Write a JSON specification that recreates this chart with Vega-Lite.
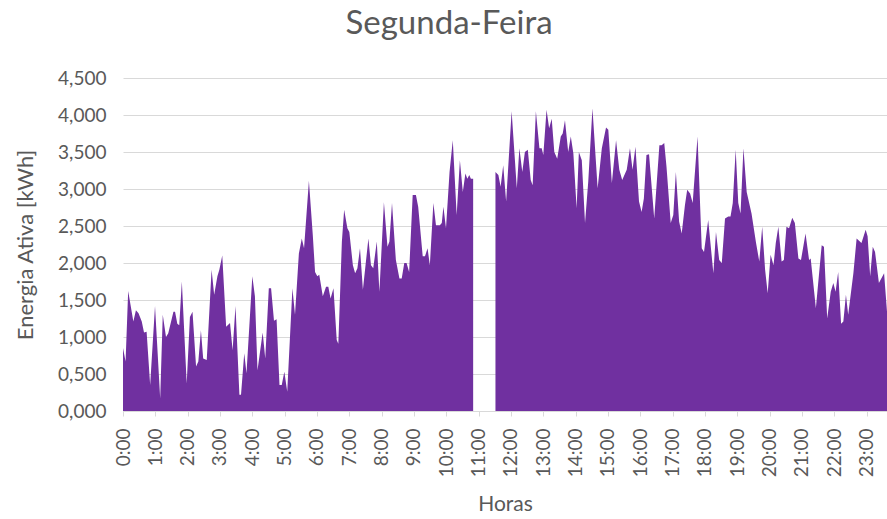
{
  "$schema": "https://vega.github.io/schema/vega-lite/v6.json",
  "width": 764,
  "height": 333,
  "autosize": {"type": "none"},
  "padding": {"left": 123, "top": 78, "right": 0, "bottom": 108},
  "background": "white",
  "config": {"view": {"stroke": null}, "font": "Lato"},
  "title": {"text": "Segunda-Feira", "anchor": "middle", "frame": "group", "dx": -56, "offset": 28, "fontSize": 33, "font": "Lato", "fontWeight": "normal", "color": "#595959"},
  "data": {"values": [
    {"hora": 0, "energia": 0.85}, {"hora": 0.08, "energia": 0.67}, {"hora": 0.16, "energia": 1.62}, {"hora": 0.32, "energia": 1.21},
    {"hora": 0.40, "energia": 1.36}, {"hora": 0.48, "energia": 1.32}, {"hora": 0.58, "energia": 1.21}, {"hora": 0.65, "energia": 1.06},
    {"hora": 0.73, "energia": 1.07}, {"hora": 0.84, "energia": 0.35}, {"hora": 0.99, "energia": 1.42}, {"hora": 1.15, "energia": 0.17},
    {"hora": 1.23, "energia": 1.30}, {"hora": 1.33, "energia": 1.00}, {"hora": 1.40, "energia": 1.05}, {"hora": 1.56, "energia": 1.34},
    {"hora": 1.61, "energia": 1.34}, {"hora": 1.68, "energia": 1.18}, {"hora": 1.74, "energia": 1.16}, {"hora": 1.82, "energia": 1.75},
    {"hora": 1.97, "energia": 0.37}, {"hora": 2.07, "energia": 1.27}, {"hora": 2.15, "energia": 1.34}, {"hora": 2.26, "energia": 0.60},
    {"hora": 2.33, "energia": 0.67}, {"hora": 2.41, "energia": 1.09}, {"hora": 2.48, "energia": 0.71}, {"hora": 2.59, "energia": 0.69},
    {"hora": 2.74, "energia": 1.91}, {"hora": 2.82, "energia": 1.57}, {"hora": 2.92, "energia": 1.82}, {"hora": 2.98, "energia": 1.91},
    {"hora": 3.07, "energia": 2.10}, {"hora": 3.19, "energia": 1.14}, {"hora": 3.31, "energia": 1.19}, {"hora": 3.39, "energia": 0.82},
    {"hora": 3.48, "energia": 1.42}, {"hora": 3.60, "energia": 0.22}, {"hora": 3.65, "energia": 0.22}, {"hora": 3.75, "energia": 0.78},
    {"hora": 3.82, "energia": 0.51}, {"hora": 4.00, "energia": 1.82}, {"hora": 4.08, "energia": 1.55}, {"hora": 4.16, "energia": 0.55},
    {"hora": 4.32, "energia": 1.06}, {"hora": 4.40, "energia": 0.71}, {"hora": 4.51, "energia": 1.66}, {"hora": 4.58, "energia": 1.66},
    {"hora": 4.67, "energia": 1.22}, {"hora": 4.75, "energia": 1.24}, {"hora": 4.84, "energia": 0.35}, {"hora": 4.91, "energia": 0.35},
    {"hora": 4.99, "energia": 0.53}, {"hora": 5.08, "energia": 0.26}, {"hora": 5.24, "energia": 1.66}, {"hora": 5.32, "energia": 1.30},
    {"hora": 5.44, "energia": 2.13}, {"hora": 5.53, "energia": 2.33}, {"hora": 5.60, "energia": 2.20}, {"hora": 5.75, "energia": 3.11},
    {"hora": 5.87, "energia": 2.38}, {"hora": 5.94, "energia": 1.88}, {"hora": 6.01, "energia": 1.82}, {"hora": 6.07, "energia": 1.84},
    {"hora": 6.18, "energia": 1.55}, {"hora": 6.28, "energia": 1.68}, {"hora": 6.35, "energia": 1.68}, {"hora": 6.42, "energia": 1.52},
    {"hora": 6.51, "energia": 1.66}, {"hora": 6.61, "energia": 0.96}, {"hora": 6.66, "energia": 0.91}, {"hora": 6.77, "energia": 2.29},
    {"hora": 6.84, "energia": 2.72}, {"hora": 6.94, "energia": 2.47}, {"hora": 7.00, "energia": 2.42}, {"hora": 7.11, "energia": 1.97},
    {"hora": 7.18, "energia": 1.86}, {"hora": 7.25, "energia": 1.93}, {"hora": 7.33, "energia": 2.20}, {"hora": 7.42, "energia": 1.64},
    {"hora": 7.59, "energia": 2.33}, {"hora": 7.67, "energia": 1.97}, {"hora": 7.74, "energia": 1.93}, {"hora": 7.85, "energia": 2.29},
    {"hora": 7.93, "energia": 1.61}, {"hora": 8.07, "energia": 2.82}, {"hora": 8.18, "energia": 2.22}, {"hora": 8.24, "energia": 2.29},
    {"hora": 8.32, "energia": 2.81}, {"hora": 8.44, "energia": 2.04}, {"hora": 8.55, "energia": 1.79}, {"hora": 8.62, "energia": 1.79},
    {"hora": 8.70, "energia": 2.00}, {"hora": 8.77, "energia": 2.00}, {"hora": 8.85, "energia": 1.88}, {"hora": 8.96, "energia": 2.92},
    {"hora": 9.06, "energia": 2.92}, {"hora": 9.13, "energia": 2.76}, {"hora": 9.27, "energia": 2.09}, {"hora": 9.34, "energia": 2.09},
    {"hora": 9.42, "energia": 2.20}, {"hora": 9.49, "energia": 1.97}, {"hora": 9.60, "energia": 2.81}, {"hora": 9.68, "energia": 2.51},
    {"hora": 9.80, "energia": 2.51}, {"hora": 9.86, "energia": 2.54}, {"hora": 9.91, "energia": 2.76}, {"hora": 9.99, "energia": 2.47},
    {"hora": 10.10, "energia": 3.23}, {"hora": 10.20, "energia": 3.66}, {"hora": 10.32, "energia": 2.65}, {"hora": 10.42, "energia": 3.39},
    {"hora": 10.51, "energia": 2.96}, {"hora": 10.59, "energia": 3.21}, {"hora": 10.65, "energia": 3.14}, {"hora": 10.71, "energia": 3.19},
    {"hora": 10.76, "energia": 3.14}, {"hora": 10.83, "energia": 3.14}, {"hora": 11.0, "energia": null},
    {"hora": 11.52, "energia": 3.23}, {"hora": 11.61, "energia": 3.19}, {"hora": 11.68, "energia": 3.03}, {"hora": 11.76, "energia": 3.32},
    {"hora": 11.85, "energia": 2.83}, {"hora": 12.02, "energia": 4.05}, {"hora": 12.18, "energia": 3.01}, {"hora": 12.26, "energia": 3.55},
    {"hora": 12.35, "energia": 3.23}, {"hora": 12.43, "energia": 3.50}, {"hora": 12.52, "energia": 3.53}, {"hora": 12.61, "energia": 3.12},
    {"hora": 12.67, "energia": 3.05}, {"hora": 12.77, "energia": 4.05}, {"hora": 12.88, "energia": 3.55}, {"hora": 12.95, "energia": 3.55},
    {"hora": 13.00, "energia": 3.46}, {"hora": 13.10, "energia": 4.07}, {"hora": 13.18, "energia": 3.82}, {"hora": 13.26, "energia": 3.95},
    {"hora": 13.34, "energia": 3.50}, {"hora": 13.43, "energia": 3.41}, {"hora": 13.54, "energia": 3.71}, {"hora": 13.60, "energia": 3.75},
    {"hora": 13.67, "energia": 3.93}, {"hora": 13.77, "energia": 3.50}, {"hora": 13.85, "energia": 3.71}, {"hora": 13.93, "energia": 3.48},
    {"hora": 14.03, "energia": 2.74}, {"hora": 14.10, "energia": 3.50}, {"hora": 14.19, "energia": 3.39}, {"hora": 14.29, "energia": 2.54},
    {"hora": 14.39, "energia": 3.10}, {"hora": 14.52, "energia": 4.09}, {"hora": 14.68, "energia": 3.01}, {"hora": 14.81, "energia": 3.55},
    {"hora": 14.94, "energia": 3.83}, {"hora": 15.01, "energia": 3.80}, {"hora": 15.12, "energia": 3.08}, {"hora": 15.25, "energia": 3.66},
    {"hora": 15.35, "energia": 3.26}, {"hora": 15.44, "energia": 3.12}, {"hora": 15.58, "energia": 3.26}, {"hora": 15.68, "energia": 3.55},
    {"hora": 15.76, "energia": 3.26}, {"hora": 15.85, "energia": 3.57}, {"hora": 15.96, "energia": 2.83}, {"hora": 16.04, "energia": 2.69},
    {"hora": 16.11, "energia": 2.87}, {"hora": 16.19, "energia": 3.46}, {"hora": 16.27, "energia": 3.47}, {"hora": 16.43, "energia": 2.60},
    {"hora": 16.59, "energia": 3.59}, {"hora": 16.66, "energia": 3.59}, {"hora": 16.74, "energia": 3.62}, {"hora": 16.81, "energia": 3.30},
    {"hora": 16.94, "energia": 2.54}, {"hora": 17.02, "energia": 2.65}, {"hora": 17.10, "energia": 3.23}, {"hora": 17.20, "energia": 2.56},
    {"hora": 17.28, "energia": 2.40}, {"hora": 17.38, "energia": 2.78}, {"hora": 17.45, "energia": 2.99}, {"hora": 17.54, "energia": 2.94},
    {"hora": 17.62, "energia": 2.81}, {"hora": 17.77, "energia": 3.71}, {"hora": 17.90, "energia": 2.20}, {"hora": 17.97, "energia": 2.15},
    {"hora": 18.10, "energia": 2.58}, {"hora": 18.26, "energia": 1.86}, {"hora": 18.34, "energia": 2.42}, {"hora": 18.44, "energia": 2.04},
    {"hora": 18.52, "energia": 2.00}, {"hora": 18.62, "energia": 2.60}, {"hora": 18.72, "energia": 2.63}, {"hora": 18.79, "energia": 2.63},
    {"hora": 18.86, "energia": 2.81}, {"hora": 18.95, "energia": 3.53}, {"hora": 19.03, "energia": 2.81}, {"hora": 19.10, "energia": 2.67},
    {"hora": 19.19, "energia": 3.55}, {"hora": 19.29, "energia": 2.96}, {"hora": 19.44, "energia": 2.67}, {"hora": 19.58, "energia": 2.27},
    {"hora": 19.68, "energia": 2.02}, {"hora": 19.77, "energia": 2.49}, {"hora": 19.86, "energia": 1.91}, {"hora": 19.94, "energia": 1.59},
    {"hora": 20.03, "energia": 2.11}, {"hora": 20.12, "energia": 1.97}, {"hora": 20.19, "energia": 2.27}, {"hora": 20.27, "energia": 2.49},
    {"hora": 20.37, "energia": 2.02}, {"hora": 20.44, "energia": 2.04}, {"hora": 20.52, "energia": 2.49}, {"hora": 20.60, "energia": 2.47},
    {"hora": 20.70, "energia": 2.61}, {"hora": 20.78, "energia": 2.54}, {"hora": 20.89, "energia": 2.06}, {"hora": 20.97, "energia": 2.04},
    {"hora": 21.11, "energia": 2.40}, {"hora": 21.22, "energia": 2.04}, {"hora": 21.27, "energia": 2.06}, {"hora": 21.43, "energia": 1.39},
    {"hora": 21.61, "energia": 2.24}, {"hora": 21.68, "energia": 2.22}, {"hora": 21.78, "energia": 1.25}, {"hora": 21.89, "energia": 1.61},
    {"hora": 21.97, "energia": 1.73}, {"hora": 22.04, "energia": 1.61}, {"hora": 22.12, "energia": 1.88}, {"hora": 22.21, "energia": 1.18},
    {"hora": 22.28, "energia": 1.21}, {"hora": 22.36, "energia": 1.57}, {"hora": 22.43, "energia": 1.30}, {"hora": 22.59, "energia": 1.86},
    {"hora": 22.69, "energia": 2.33}, {"hora": 22.84, "energia": 2.27}, {"hora": 22.97, "energia": 2.45}, {"hora": 23.03, "energia": 2.36},
    {"hora": 23.11, "energia": 1.82}, {"hora": 23.19, "energia": 2.22}, {"hora": 23.26, "energia": 2.15}, {"hora": 23.38, "energia": 1.73},
    {"hora": 23.54, "energia": 1.86}, {"hora": 23.63, "energia": 1.34}
  ]},
  "mark": {"type": "area", "color": "#7030A0", "invalid": "break-paths-show-domains", "clip": true},
  "encoding": {
    "x": {
      "field": "hora", "type": "quantitative",
      "scale": {"domain": [0, 23.63], "nice": false, "zero": false},
      "axis": {
        "title": "Horas", "titleFont": "Lato", "titleFontSize": 21, "titleFontWeight": "normal", "titleColor": "#595959", "titlePadding": 17,
        "values": [0,1,2,3,4,5,6,7,8,9,10,11,12,13,14,15,16,17,18,19,20,21,22,23],
        "labelExpr": "datum.value + ':00'",
        "labelAngle": 270, "labelAlign": "right", "labelBaseline": "middle",
        "labelFont": "Lato", "labelFontSize": 19, "labelColor": "#595959", "labelPadding": 12,
        "grid": false, "domainColor": "#d9d9d9", "tickColor": "#d9d9d9", "tickSize": 5, "labelOverlap": false, "labelFlush": false
      }
    },
    "y": {
      "field": "energia", "type": "quantitative",
      "scale": {"domain": [0, 4.5], "nice": false},
      "axis": {
        "title": "Energia Ativa [kWh]", "titleFont": "Lato", "titleFontSize": 22, "titleFontWeight": "normal", "titleColor": "#595959", "titlePadding": 20,
        "values": [0, 0.5, 1, 1.5, 2, 2.5, 3, 3.5, 4, 4.5],
        "labelExpr": "replace(format(datum.value, '.3f'), '.', ',')",
        "labelFont": "Lato", "labelFontSize": 19, "labelColor": "#595959", "labelPadding": 17,
        "domain": false, "ticks": false, "gridColor": "#d9d9d9", "gridWidth": 1
      }
    }
  }
}
